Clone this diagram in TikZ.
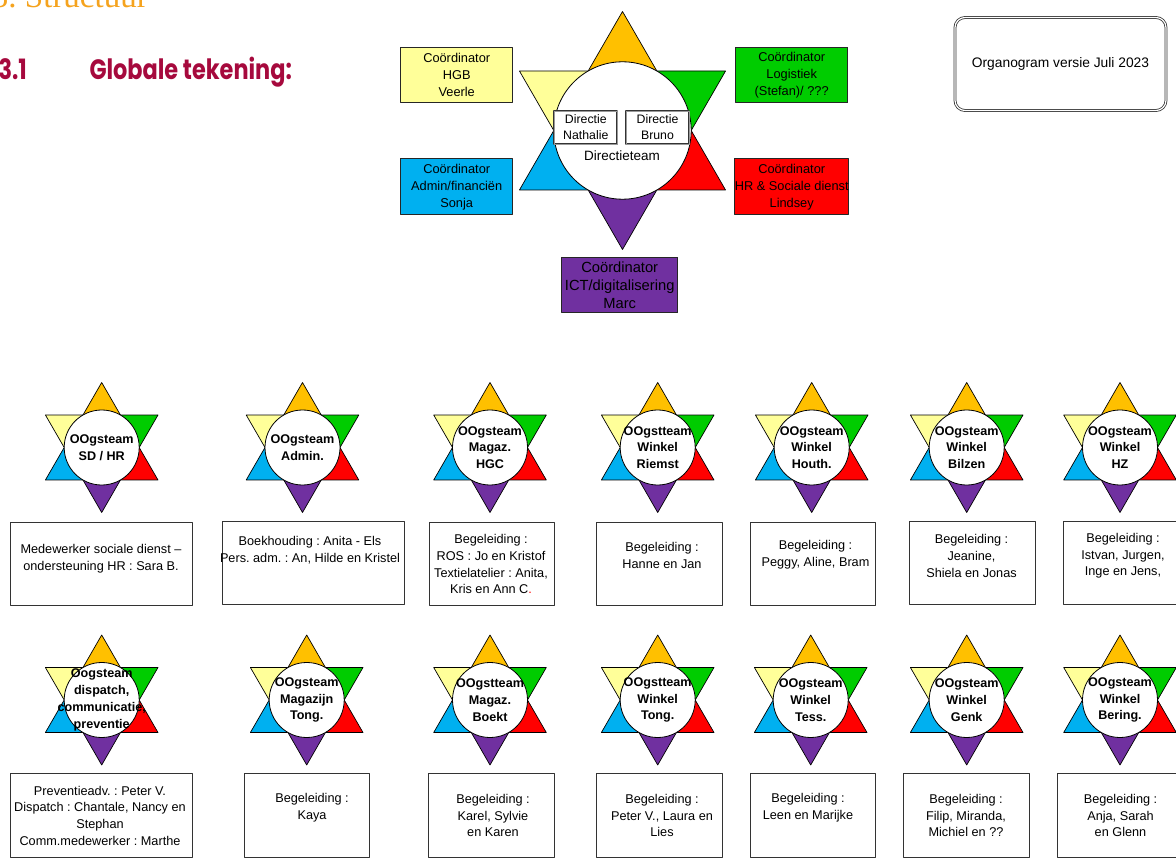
\documentclass[tikz,border=0pt]{standalone}
\usepackage{fontspec}
\setmainfont{Liberation Sans}
\newfontfamily\chapterfont{Liberation Serif}
\newfontfamily\headfont{Poppins}[FakeStretch=0.8]
\definecolor{starorange}{HTML}{FFC000}
\definecolor{stargreen}{HTML}{00CC00}
\definecolor{starred}{HTML}{FF0000}
\definecolor{starpurple}{HTML}{7030A0}
\definecolor{starblue}{HTML}{00B0F0}
\definecolor{staryellow}{HTML}{FFFF99}
\definecolor{headred}{HTML}{A6093D}
\definecolor{chapterorange}{HTML}{F5A31E}
\frenchspacing

\begin{document}
\begin{tikzpicture}[x=1pt, y=-1pt, line join=round,
    startip/.style={draw=black, line width=0.7pt},
    teamcircle/.style={circle, draw=black, fill=white, line width=0.8pt, minimum size=75pt, inner sep=0pt},
    teamtext/.style={font=\fontsize{12.6}{16.8}\selectfont\bfseries, align=center, inner sep=0pt},
    infobox/.style={draw=black!80, line width=0.8pt, fill=white, inner sep=0pt},
    infotext/.style={font=\fontsize{12.7}{16.7}\selectfont, align=center, inner sep=0pt},
    coordbox/.style={draw=black!85, line width=1pt, minimum width=112pt, minimum height=55.5pt, inner sep=0pt, align=center, font=\fontsize{12.8}{17}\selectfont},
    directiebox/.style={draw=black!80, double=black!40, double distance=0.8pt, line width=0.7pt, fill=white, minimum width=63pt, minimum height=33pt, inner sep=0pt, align=center, font=\fontsize{12.3}{16}\selectfont}]
    \useasboundingbox (0,0) rectangle (1176,858);

    % Headings
    \node[anchor=base east, inner sep=0pt, text=chapterorange, font=\chapterfont\fontsize{33}{33}\selectfont] (chapter) at (148,7.3) {3. Structuur};
    \node[anchor=base east, inner sep=0pt, text=headred, font=\headfont\bfseries\fontsize{28}{28}\selectfont] (secnum) at (27,80) {3.1};
    \node[anchor=base west, inner sep=0pt, text=headred, font=\headfont\bfseries\fontsize{28}{28}\selectfont] (sectitle) at (89.3,80) {Globale tekening:};

    % Version box
    \node[draw=black!80, double, double distance=1.2pt, line width=0.8pt, rounded corners=10pt, minimum width=211pt, minimum height=93pt, inner sep=0pt, font=\fontsize{13.8}{16}\selectfont] (versie) at (1060.5,64) {Organogram versie Juli 2023};

    % Central star
    \begin{scope}[shift={(622.5,130.5)}]
        \foreach \a/\c in {-90/starorange, -30/stargreen, 30/starred, 90/starpurple, 150/starblue, 210/staryellow}
            \filldraw[startip, fill=\c] (\a:119) -- (\a-30:68.7) -- (\a+30:68.7) -- cycle;
    \end{scope}
    \node[teamcircle, minimum size=137.4pt] (directie) at (622.5,130.5) {};
    \node[directiebox] (nathalie) at (585.8,127.5) {Directie\\Nathalie};
    \node[directiebox] (bruno) at (657.5,127.5) {Directie\\Bruno};
    \node[inner sep=0pt, font=\fontsize{13.5}{16}\selectfont] (directieteam) at (622,156) {Directieteam};

    % Coordinators
    \node[coordbox, fill=staryellow] (hgb) at (456.7,75) {Coördinator\\HGB\\Veerle};
    \node[coordbox, fill=stargreen] (logistiek) at (791.7,75) {Coördinator\\Logistiek\\(Stefan)/ ???};
    \node[coordbox, fill=starblue] (admin) at (456.7,186.7) {Coördinator\\Admin/financiën\\Sonja};
    \node[coordbox, fill=starred] (hr) at (791.7,186.7) {Coördinator\\HR \& Sociale dienst\\Lindsey};
    \node[coordbox, fill=starpurple, minimum width=116pt, font=\fontsize{14.7}{18.3}\selectfont] (ict) at (619.7,285.2) {Coördinator\\ICT/digitalisering\\Marc};

    % Small stars
    \foreach \cx/\cy [count=\i] in {101.7/447.5, 302.5/447.5, 490/447.5, 657.7/447.5, 811.7/447.5, 966.7/447.5, 1120/447.5,
                                    101.7/700, 306.7/700, 490/700, 657.7/700, 810.7/700, 966.7/700, 1120/700} {
        \begin{scope}[shift={(\cx,\cy)}]
            \foreach \a/\c in {-90/starorange, -30/stargreen, 30/starred, 90/starpurple, 150/starblue, 210/staryellow}
                \filldraw[startip, fill=\c] (\a:65) -- (\a-30:37.5) -- (\a+30:37.5) -- cycle;
        \end{scope}
        \node[teamcircle] (star\i) at (\cx,\cy) {};
    }

    % Team names
    \node[teamtext] (sdhr) at (star1) {OOgsteam\\SD / HR};
    \node[teamtext] (adm) at (star2) {OOgsteam\\Admin.};
    \node[teamtext] (hgc) at (star3) {OOgsteam\\Magaz.\\HGC};
    \node[teamtext] (riemst) at (star4) {OOgstteam\\Winkel\\Riemst};
    \node[teamtext] (houth) at (star5) {OOgsteam\\Winkel\\Houth.};
    \node[teamtext] (bilzen) at (star6) {OOgsteam\\Winkel\\Bilzen};
    \node[teamtext] (hz) at (star7) {OOgsteam\\Winkel\\HZ};
    \node[teamtext] (dispatch) at (star8) {Oogsteam\\dispatch,\\communicatie,\\preventie};
    \node[teamtext] (magtong) at (star9) {OOgsteam\\Magazijn\\Tong.};
    \node[teamtext] (boekt) at (star10) {OOgstteam\\Magaz.\\Boekt};
    \node[teamtext] (tong) at (star11) {OOgstteam\\Winkel\\Tong.};
    \node[teamtext] (tess) at (star12) {OOgsteam\\Winkel\\Tess.};
    \node[teamtext] (genk) at (star13) {OOgsteam\\Winkel\\Genk};
    \node[teamtext] (bering) at (star14) {OOgsteam\\Winkel\\Bering.};

    % Boxes, first row
    \node[infobox, minimum width=182pt, minimum height=83pt] (box1) at (101,563.5) {};
    \node[infobox, minimum width=182pt, minimum height=83pt] (box2) at (313,563) {};
    \node[infobox, minimum width=125pt, minimum height=83pt] (box3) at (491.5,563.5) {};
    \node[infobox, minimum width=126pt, minimum height=83pt] (box4) at (659,563.5) {};
    \node[infobox, minimum width=125pt, minimum height=83pt] (box5) at (813.3,563.5) {};
    \node[infobox, minimum width=126pt, minimum height=83pt] (box6) at (972,563) {};
    \node[infobox, minimum width=115pt, minimum height=83pt] (box7) at (1120.5,563) {};
    \node[infotext] at (101,558.7) {Medewerker sociale dienst –\\ondersteuning HR : Sara B.};
    \node[infotext] at (310,550.3) {Boekhouding : Anita - Els\\Pers. adm. : An, Hilde en Kristel};
    \node[infotext] at (491,564.3) {Begeleiding :\\ROS : Jo en Kristof\\Textielatelier : Anita,\\Kris en Ann C\textcolor{red}{.}};
    \node[infotext] at (662,555.5) {Begeleiding :\\Hanne en Jan};
    \node[infotext] at (815.5,555) {Begeleiding :\\Peggy, Aline, Bram};
    \node[infotext] at (971.5,556) {Begeleiding :\\Jeanine,\\Shiela en Jonas};
    \node[infotext] at (1123,556) {Begeleiding :\\Istvan, Jurgen,\\Inge en Jens,};

    % Boxes, second row
    \node[infobox, minimum width=182pt, minimum height=84pt] (box8) at (101,815) {};
    \node[infobox, minimum width=125pt, minimum height=84pt] (box9) at (306.5,815) {};
    \node[infobox, minimum width=126pt, minimum height=84pt] (box10) at (491,815) {};
    \node[infobox, minimum width=126pt, minimum height=84pt] (box11) at (659,815) {};
    \node[infobox, minimum width=125pt, minimum height=84pt] (box12) at (812.5,815) {};
    \node[infobox, minimum width=126pt, minimum height=84pt] (box13) at (966,815) {};
    \node[infobox, minimum width=126pt, minimum height=84pt] (box14) at (1120,815) {};
    \node[infotext] at (100,815.7) {Preventieadv. : Peter V.\\Dispatch : Chantale, Nancy en\\Stephan\\Comm.medewerker : Marthe};
    \node[infotext] at (312,807.8) {Begeleiding :\\Kaya};
    \node[infotext] at (493,815.7) {Begeleiding :\\Karel, Sylvie\\en Karen};
    \node[infotext] at (662,815.7) {Begeleiding :\\Peter V., Laura en\\Lies};
    \node[infotext] at (808,807.5) {Begeleiding :\\Leen en Marijke};
    \node[infotext] at (966,815.7) {Begeleiding :\\Filip, Miranda,\\Michiel en ??};
    \node[infotext] at (1120.5,815.7) {Begeleiding :\\Anja, Sarah\\en Glenn};
\end{tikzpicture}
\end{document}
